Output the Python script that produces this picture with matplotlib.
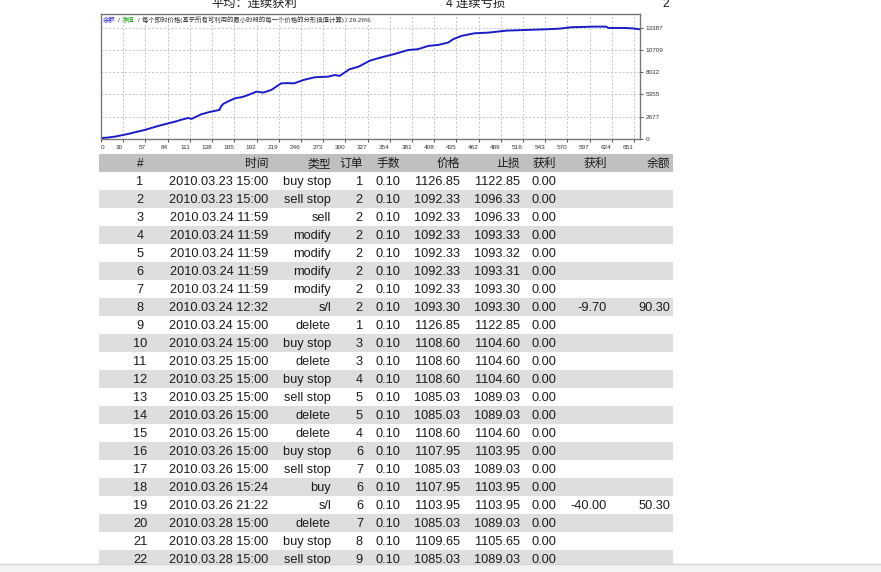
import matplotlib.pyplot as plt
from matplotlib.patches import Rectangle

plt.rcParams['font.family'] = ['Liberation Sans', 'Noto Sans CJK SC']

W, H = 881, 572

# balance curve (trade number -> balance)
trade_no = [0, 10, 20, 36, 45, 56, 66, 77, 93, 100, 109, 113, 118, 125, 135, 147, 149,
            152, 158, 166, 175, 182, 192, 200, 210, 216, 222, 230, 238, 249, 263, 279,
            287, 293, 305, 316, 330, 344, 360, 376, 388, 401, 413, 425, 431, 441, 457,
            474, 496, 520, 544, 561, 575, 590, 601, 617, 620, 640, 650, 658]
balance = [100, 160, 290, 610, 830, 1090, 1380, 1690, 2090, 2300, 2530, 2420, 2650, 2980,
           3250, 3500, 3950, 4250, 4550, 4900, 5060, 5300, 5700, 5580, 5900, 6300, 6700,
           6720, 6700, 7100, 7430, 7500, 7700, 7590, 8390, 8700, 9430, 9830, 10230, 10700,
           10800, 11200, 11320, 11600, 12000, 12400, 12720, 12800, 13040, 13120, 13200,
           13280, 13450, 13480, 13520, 13520, 13360, 13360, 13300, 13200]

x_ticks = [30, 57, 84, 111, 138, 165, 192, 219, 246, 273, 300, 327, 354, 381, 408,
           435, 462, 489, 516, 543, 570, 597, 624, 651]
y_ticks = [0, 2677, 5355, 8032, 10709, 13387]

headers = ['#', '时间', '类型', '订单', '手数', '价格', '止损', '获利', '获利', '余额']
rows = [
    ['1', '2010.03.23 15:00', 'buy stop', '1', '0.10', '1126.85', '1122.85', '0.00', '', ''],
    ['2', '2010.03.23 15:00', 'sell stop', '2', '0.10', '1092.33', '1096.33', '0.00', '', ''],
    ['3', '2010.03.24 11:59', 'sell', '2', '0.10', '1092.33', '1096.33', '0.00', '', ''],
    ['4', '2010.03.24 11:59', 'modify', '2', '0.10', '1092.33', '1093.33', '0.00', '', ''],
    ['5', '2010.03.24 11:59', 'modify', '2', '0.10', '1092.33', '1093.32', '0.00', '', ''],
    ['6', '2010.03.24 11:59', 'modify', '2', '0.10', '1092.33', '1093.31', '0.00', '', ''],
    ['7', '2010.03.24 11:59', 'modify', '2', '0.10', '1092.33', '1093.30', '0.00', '', ''],
    ['8', '2010.03.24 12:32', 's/l', '2', '0.10', '1093.30', '1093.30', '0.00', '-9.70', '90.30'],
    ['9', '2010.03.24 15:00', 'delete', '1', '0.10', '1126.85', '1122.85', '0.00', '', ''],
    ['10', '2010.03.24 15:00', 'buy stop', '3', '0.10', '1108.60', '1104.60', '0.00', '', ''],
    ['11', '2010.03.25 15:00', 'delete', '3', '0.10', '1108.60', '1104.60', '0.00', '', ''],
    ['12', '2010.03.25 15:00', 'buy stop', '4', '0.10', '1108.60', '1104.60', '0.00', '', ''],
    ['13', '2010.03.25 15:00', 'sell stop', '5', '0.10', '1085.03', '1089.03', '0.00', '', ''],
    ['14', '2010.03.26 15:00', 'delete', '5', '0.10', '1085.03', '1089.03', '0.00', '', ''],
    ['15', '2010.03.26 15:00', 'delete', '4', '0.10', '1108.60', '1104.60', '0.00', '', ''],
    ['16', '2010.03.26 15:00', 'buy stop', '6', '0.10', '1107.95', '1103.95', '0.00', '', ''],
    ['17', '2010.03.26 15:00', 'sell stop', '7', '0.10', '1085.03', '1089.03', '0.00', '', ''],
    ['18', '2010.03.26 15:24', 'buy', '6', '0.10', '1107.95', '1103.95', '0.00', '', ''],
    ['19', '2010.03.26 21:22', 's/l', '6', '0.10', '1103.95', '1103.95', '0.00', '-40.00', '50.30'],
    ['20', '2010.03.28 15:00', 'delete', '7', '0.10', '1085.03', '1089.03', '0.00', '', ''],
    ['21', '2010.03.28 15:00', 'buy stop', '8', '0.10', '1109.65', '1105.65', '0.00', '', ''],
    ['22', '2010.03.28 15:00', 'sell stop', '9', '0.10', '1085.03', '1089.03', '0.00', '', ''],
]

# column anchor (pixel x) and alignment
col_x = [140, 268, 331, 363, 400, 460, 520, 556, 607, 670]
col_ha = ['center'] + ['right'] * 9

fig = plt.figure(figsize=(W / 100, H / 100), dpi=100)

# page layer in pixel coordinates
pg = fig.add_axes([0, 0, 1, 1])
pg.set_xlim(0, W)
pg.set_ylim(H, 0)
pg.axis('off')

txt_c = '#1a1a1a'
pg.text(254, 4.2, '平均：连续获利', ha='center', va='center', fontsize=8.8, color=txt_c)
pg.text(476, 4.2, '4 连续亏损', ha='center', va='center', fontsize=8.8, color=txt_c)
pg.text(666, 4.2, '2', ha='center', va='center', fontsize=8.8, color=txt_c)

# table
row_h = 18
top = 154
base = 13.3
pg.add_patch(Rectangle((99, top), 574, row_h, color='#c0c0c0', lw=0))
for j, h in enumerate(headers):
    pg.text(col_x[j], top + base, h, ha=col_ha[j], va='baseline', fontsize=8.5, color=txt_c)
for i, r in enumerate(rows):
    y0 = top + row_h * (i + 1)
    if i % 2 == 1:
        pg.add_patch(Rectangle((99, y0), 574, row_h, color='#dedede', lw=0))
    for j, v in enumerate(r):
        if v:
            pg.text(col_x[j], y0 + base, v, ha=col_ha[j], va='baseline',
                    fontsize=9.2, color=txt_c)

# browser status bar at the bottom
pg.add_patch(Rectangle((0, 564), W, 8, color='#f3f3f3', lw=0, zorder=5))
pg.plot([0, W], [564, 564], color='#d4d4d4', lw=1, zorder=6)

# balance chart
ax = fig.add_axes([101 / W, 1 - 139 / H, 539 / W, 125 / H])
ax.plot(trade_no, balance, color='#1c1cc4', lw=1.4)
ax.set_xlim(2.9, 658.3)
ax.set_ylim(0, 15040)
ax.set_xticks([2.9] + x_ticks)
ax.set_xticklabels(['0'] + [str(v) for v in x_ticks])
for k, lab in enumerate(ax.get_xticklabels()):
    lab.set_ha('left' if k == 0 else 'right')
ax.set_yticks(y_ticks)
ax.set_yticklabels([str(v) for v in y_ticks])
ax.yaxis.tick_right()
ax.tick_params(axis='both', length=2.5, width=0.6, labelsize=4.6, colors='#333333', pad=1.5)
ax.grid(True, ls=(0, (2, 2)), color='#c4c4c4', lw=0.7)
for s in ax.spines.values():
    s.set_color('#777777')
    s.set_linewidth(1.0)

# chart caption segments
cap = [(103, '余额', '#2020c0'), (117.5, '/', '#333333'), (122, '净值', '#20a020'),
       (137.5, '/', '#333333'),
       (142, '每个即时价格(基于所有可利用的最小时段的每一个价格的分形插值计算) / 29.26%', '#333333')]
for cx, s, c in cap:
    ax.text(cx, 20, s, transform=pg.transData, ha='left', va='center', fontsize=4.6,
            color=c, clip_on=False)

fig.savefig('out.png', dpi=100)
